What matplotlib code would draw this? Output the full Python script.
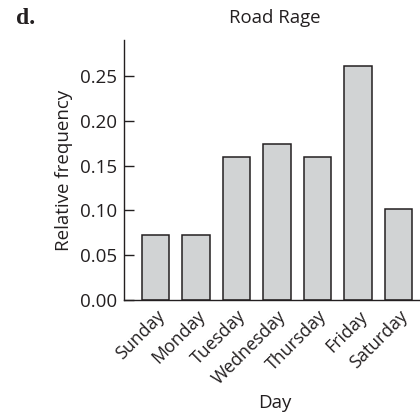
import matplotlib
matplotlib.use("Agg")
import matplotlib.pyplot as plt

days = ["Sunday", "Monday", "Tuesday", "Wednesday", "Thursday", "Friday", "Saturday"]
rel_freq = [0.072, 0.072, 0.159, 0.174, 0.159, 0.261, 0.101]
yticks = [0.00, 0.05, 0.10, 0.15, 0.20, 0.25]

plt.rcParams['font.family'] = ['Open Sans', 'DejaVu Sans']

fig = plt.figure(figsize=(4.2, 4.19), dpi=100)
ax = fig.add_axes([0.295, 0.284, 0.705, 0.6205])

x = list(range(len(days)))
ax.bar(x, rel_freq, width=0.67, color="#d1d3d4", edgecolor="#231f20", linewidth=1.1)

ax.set_xlim(-0.78, len(days) - 1 + 0.53)
ax.set_ylim(0, 0.29)
ax.set_yticks(yticks)
ax.set_yticklabels([f"{v:.2f}" for v in yticks])
ax.set_xticks(x)
ax.set_xticklabels(days, rotation=45, ha="right", rotation_mode="anchor")

for s in ["top", "right"]:
    ax.spines[s].set_visible(False)
for s in ["left", "bottom"]:
    ax.spines[s].set_color("#231f20")
    ax.spines[s].set_linewidth(1.0)

ax.tick_params(axis="y", direction="in", length=7, width=1.0, color="#231f20",
               labelsize=13.5, pad=5, labelcolor="#231f20")
ax.tick_params(axis="x", length=0, labelsize=12.8, pad=5, labelcolor="#231f20")

ax.set_ylabel("Relative frequency", fontsize=13.5, color="#231f20", labelpad=5)

fig.text(275 / 420, 1 - 403 / 419, "Day", ha="center", va="center",
         fontsize=13.5, color="#231f20")
fig.text(275 / 420, 1 - 18 / 419, "Road Rage", ha="center", va="center",
         fontsize=13.4, color="#231f20")
fig.text(16 / 420, 1 - 18 / 419, "d.", ha="left", va="center", fontsize=17,
         fontweight="bold", family="Liberation Serif", color="#231f20")

fig.savefig("out.png", dpi=100)
